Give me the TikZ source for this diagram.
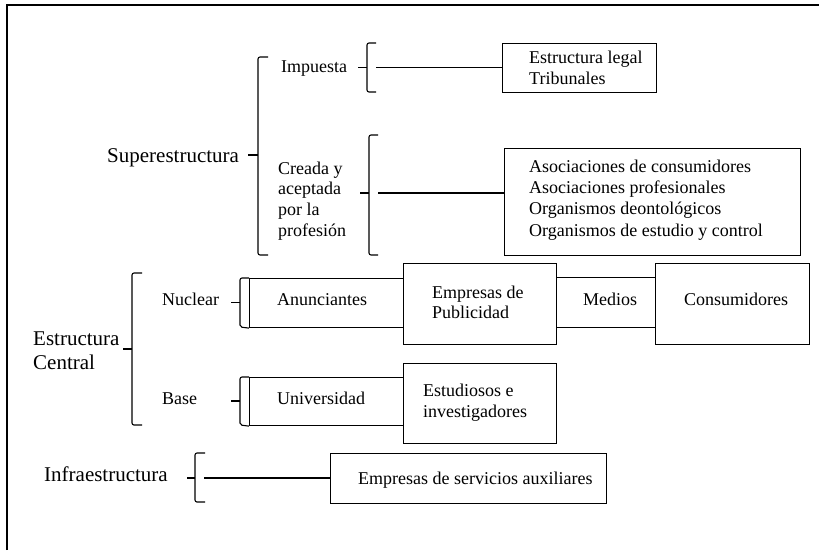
\documentclass[tikz,border=0pt]{standalone}
\usepackage{fontspec}
\setmainfont{Liberation Serif}
\begin{document}
\begin{tikzpicture}[x=1pt,y=-1pt,
  box/.style={draw, line width=1.1pt, inner sep=0pt, anchor=north west},
  txt/.style={inner sep=0pt, font=\fontsize{18}{20.7}\selectfont, align=left},
  bigtxt/.style={inner sep=0pt, font=\fontsize{21}{24}\selectfont, align=left},
  link/.style={line width=1.1pt},
  brace/.style={line width=1.1pt, rounded corners=2pt},
]
\useasboundingbox (0,0) rectangle (819,550);

% outer frame (top and left edges)
\draw[line width=2pt] (7,550) -- (7,5) -- (819,5);

% ---------- boxes ----------
\node[box, minimum width=154pt, minimum height=49pt]  (legal) at (502,43)  {};
\node[box, minimum width=296pt, minimum height=107pt] (asoc)  at (504,148) {};
\node[box, minimum width=99pt,  minimum height=50pt]  (med)   at (556,277) {};
\node[box, minimum width=154pt, minimum height=49pt]  (anun)  at (249,278) {};
\node[box, minimum width=153pt, minimum height=81pt]  (emp)   at (403,263) {};
\node[box, minimum width=154pt, minimum height=81pt]  (cons)  at (655,263) {};
\node[box, minimum width=154pt, minimum height=48pt]  (univ)  at (249,377) {};
\node[box, minimum width=153pt, minimum height=80pt]  (estu)  at (403,363) {};
\node[box, minimum width=276pt, minimum height=50pt]  (serv)  at (330,453) {};

% ---------- box texts ----------
\node[txt, anchor=west] (tLegal) at (529,68) {Estructura legal\\Tribunales};
\node[txt, anchor=west, font=\fontsize{18}{21.3}\selectfont] (tAsoc) at (529,200)
  {Asociaciones de consumidores\\Asociaciones profesionales\\Organismos deontológicos\\Organismos de estudio y control};
\node[txt, anchor=base west] (tAnun) at (277,305) {Anunciantes};
\node[txt, anchor=west, font=\fontsize{18}{20}\selectfont] (tEmp) at (432,302) {Empresas de\\Publicidad};
\node[txt, anchor=base west] (tMed) at (583,305) {Medios};
\node[txt, anchor=base west] (tCon) at (684,305) {Consumidores};
\node[txt, anchor=base west] (tUni) at (277,404) {Universidad};
\node[txt, anchor=west] (tEst) at (423,402.8) {Estudiosos e\\investigadores};
\node[txt, anchor=base west] (tServ) at (358,484) {Empresas de servicios auxiliares};

% ---------- category labels ----------
\node[bigtxt, anchor=base west] (tSuper) at (107,162) {Superestructura};
\node[txt, anchor=base west] (tImp) at (281,72) {Impuesta};
\node[txt, anchor=west] (tCre) at (278,201) {Creada y\\aceptada\\por la\\profesión};
\node[bigtxt, anchor=west] (tEC) at (33,350.5) {Estructura\\Central};
\node[txt, anchor=base west] (tNuc) at (162,305) {Nuclear};
\node[txt, anchor=base west] (tBase) at (162,404) {Base};
\node[bigtxt, anchor=base west] (tInf) at (44,481) {Infraestructura};

% ---------- braces ----------
% Superestructura
\draw[brace] (268,57) -| (258,255) -- (268,255);
\draw[link] (248,155) -- (258,155);
% Impuesta
\draw[brace] (376,43) -| (367,92) -- (376,92);
\draw[link] (358,67.5) -- (367,67.5);
\coordinate (impR) at (376,67.5);
% Creada y aceptada
\draw[brace] (378,135) -| (369,255) -- (378,255);
\draw[link] (360,193) -- (369,193);
\coordinate (creR) at (378,193);
% Estructura Central
\draw[brace] (142,273) -| (132,425) -- (142,425);
\draw[link] (123,349) -- (132,349);
% Nuclear
\draw[brace] (anun.north west) -| (240,327) -- (anun.south west);
\draw[link] (231,302.5) -- (240,302.5);
% Base
\draw[brace] (univ.north west) -| (240,425) -- (univ.south west);
\draw[link] (231,401) -- (240,401);
% Infraestructura
\draw[brace] (205,453) -| (195,502) -- (205,502);
\draw[link] (187,478) -- (195,478);
\coordinate (infR) at (204,478);

% ---------- connectors ----------
\draw[link] (impR) -- (impR -| legal.west);
\draw[link] (creR) -- (creR -| asoc.west);
\draw[link] (infR) -- (infR -| serv.west);
\end{tikzpicture}
\end{document}
